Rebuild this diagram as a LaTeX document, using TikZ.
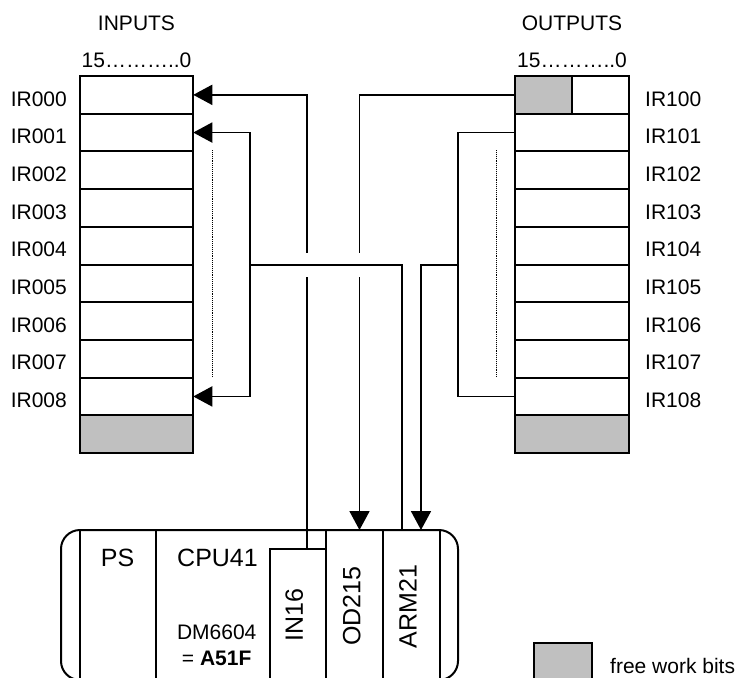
\documentclass[tikz,border=0pt]{standalone}
\usepackage{fontspec}
\setmainfont{Liberation Sans}
\usetikzlibrary{positioning,arrows.meta}

\definecolor{workgray}{HTML}{C0C0C0}

\tikzstyle{regcell} = [rectangle, draw=black, line width=2pt, minimum width=113.5pt, minimum height=37.7pt, inner sep=0pt, outer sep=0pt]
\tikzstyle{slot} = [rectangle, draw=black, line width=2pt, minimum height=150pt, inner sep=0pt, outer sep=0pt, anchor=north west]
\tikzstyle{lbl} = [font=\fontsize{21}{25}\selectfont, inner sep=0pt]
\tikzstyle{modlbl} = [font=\fontsize{25}{30}\selectfont, inner sep=0pt]
\tikzstyle{sig} = [line width=1.8pt]
\tikzstyle{arrow} = [sig, -{Triangle[length=19pt, width=20pt]}]
\tikzstyle{dotline} = [line width=0.9pt, densely dotted]

\begin{document}
\begin{tikzpicture}[x=1pt, y=-1pt]
		\useasboundingbox (0,0) rectangle (741,677);
		\clip (0,0) rectangle (741,677);
		% Registers
		\foreach \i in {0,...,8} {
			\node (in\i) [regcell] at (136.5, 94.85+37.7*\i) {};
			\node (inlbl\i) [lbl, anchor=base east] at (67, 106+37.7*\i) {IR00\i};
			\node (out\i) [regcell] at (572, 94.85+37.7*\i) {};
			\node (outlbl\i) [lbl, anchor=base west] at (645, 106+37.7*\i) {IR10\i};
		}
		\node (infree) [regcell, fill=workgray] at (136.5, 94.85+37.7*9) {};
		\node (outfree) [regcell, fill=workgray] at (572, 94.85+37.7*9) {};
		\node (outbits) [regcell, fill=workgray, minimum width=56.75pt, anchor=north west] at (out0.north west) {};
		\node (inbits) [lbl, above=7.7pt of in0] {15………..0};
		\node (outbitnr) [lbl, above=7.7pt of out0] {15………..0};
		\node (inputs) [lbl, above=22.6pt of inbits] {INPUTS};
		\node (outputs) [lbl, above=22.6pt of outbitnr] {OUTPUTS};
		\draw [dotline] (212.7,150) -- (212.7,377);
		\draw [dotline] (496.7,150) -- (496.7,377);
		% Rack
		\node (rack) [draw, line width=2pt, rounded corners=19pt, minimum width=397pt, minimum height=150pt, inner sep=0pt] at (259.5,605) {};
		\node (ps) [slot, minimum width=76pt] at (80,530) {};
		\node (cpu) [slot, minimum width=170pt] at (156,530) {};
		\node (od) [slot, minimum width=57pt] at (326,530) {};
		\node (arm) [slot, minimum width=57pt] at (383,530) {};
		\node (in16) [slot, minimum width=56pt, minimum height=131pt] at (270,549) {};
		\node (pslbl) [modlbl, anchor=base] at (117.5,566.7) {PS};
		\node (cpulbl) [modlbl, anchor=base] at (217.5,566.7) {CPU41};
		\node (dmlbl) [lbl, anchor=base] at (216.7,639) {DM6604};
		\node (dmval) [lbl, anchor=base] at (216.7,665.7) {= \textbf{A51F}};
		\node (in16lbl) [modlbl, rotate=90] at (294.2,615) {IN16};
		\node (odlbl) [modlbl, rotate=90] at (351.7,606) {OD215};
		\node (armlbl) [modlbl, rotate=90] at (408,606.7) {ARM21};
		% Legend
		\node (freekey) [regcell, fill=workgray, minimum width=58pt, minimum height=45pt, anchor=north west] at (534,643) {};
		\node (freelbl) [lbl, anchor=base west] at (610,673) {free work bits};
		% Arrows
		\coordinate (in16pin) at (307,549);
		\coordinate (odpin) at (359.5,530);
		\coordinate (armout) at (402,530);
		\coordinate (armin) at (421,530);
		\coordinate (inbus) at (250,265);
		\coordinate (outbus) at (458,265);
		\draw [arrow] (in16pin) |- (in0.east);
		\draw [arrow] (outbits.west) -| (odpin);
		\foreach \x in {307,359.5} \fill[white] (\x-4,253) rectangle (\x+4,277);
		\draw [sig] (armout) |- (inbus);
		\draw [arrow] (inbus) |- (in1.east);
		\draw [arrow] (inbus) |- (in8.east);
		\draw [sig] (out1.west) -| (outbus);
		\draw [sig] (out8.west) -| (outbus);
		\draw [arrow] (outbus) -| (armin);
	\end{tikzpicture}
\end{document}
